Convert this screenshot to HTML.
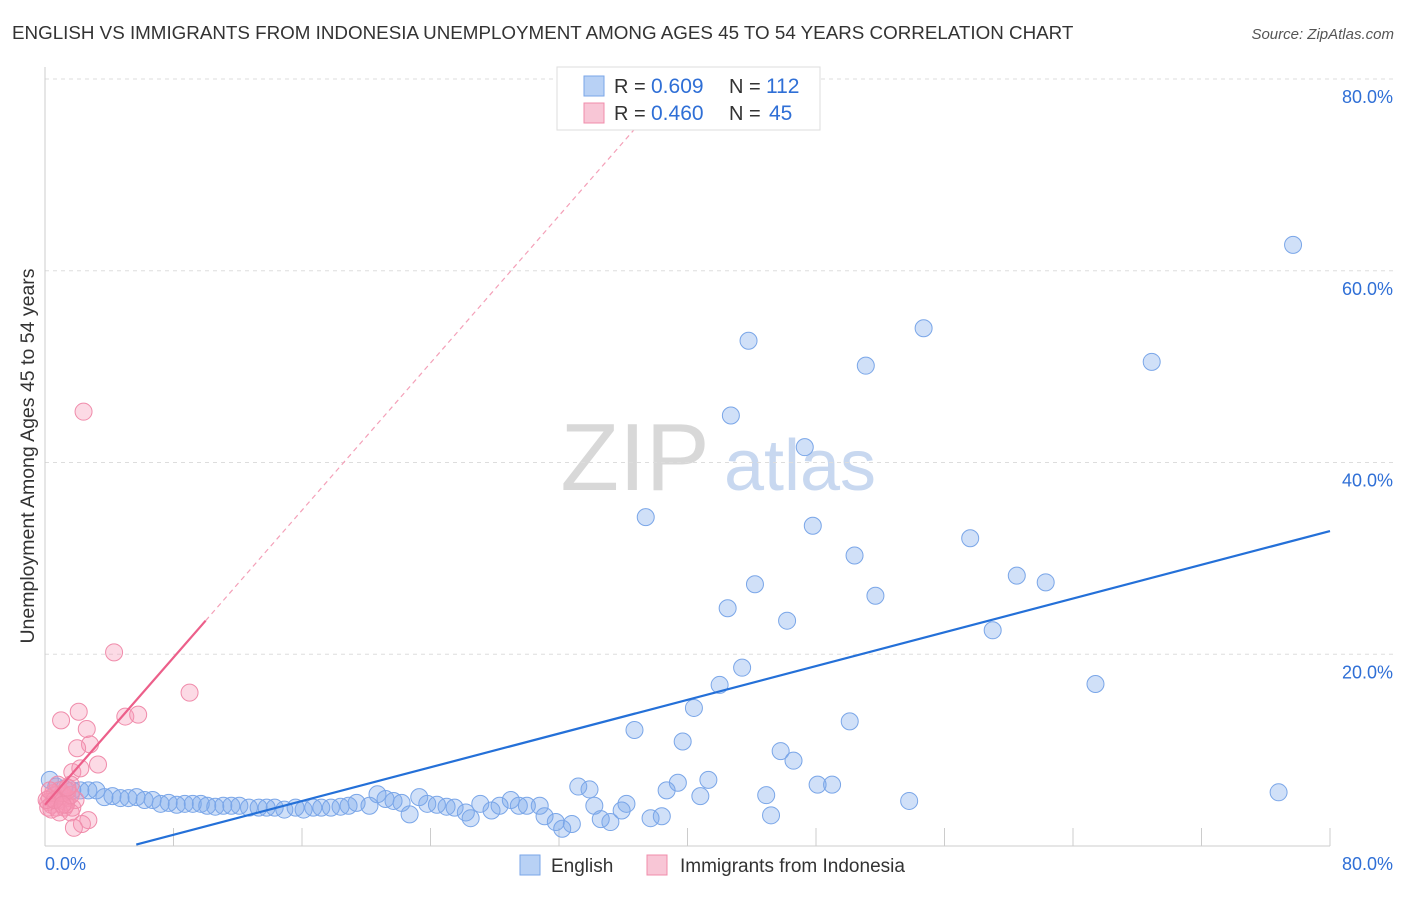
<!DOCTYPE html>
<html><head><meta charset="utf-8">
<style>
body{margin:0;background:#fff;font-family:"Liberation Sans",sans-serif;}
svg text{font-family:"Liberation Sans",sans-serif;}
</style></head>
<body>
<svg id="chart" width="1406" height="892" viewBox="0 0 1406 892">
<text x="12" y="39" font-size="18.8" fill="#333">ENGLISH VS IMMIGRANTS FROM INDONESIA UNEMPLOYMENT AMONG AGES 45 TO 54 YEARS CORRELATION CHART</text>
<text x="1394" y="39" font-size="15" fill="#555" font-style="italic" text-anchor="end">Source: ZipAtlas.com</text>
<text transform="translate(34,456) rotate(-90)" font-size="19.5" fill="#333" text-anchor="middle">Unemployment Among Ages 45 to 54 years</text>
<g>
<text x="635" y="490" font-size="96" fill="#d8d8d8" font-family="Liberation Serif" text-anchor="middle">ZIP</text>
<text x="800" y="490" font-size="72" fill="#c8d8f0" text-anchor="middle">atlas</text>
</g>
<g id="grid"></g>
<g id="marks"></g>
<g>
<rect x="557" y="67" width="263" height="63" fill="#fff" stroke="#ddd"/>
<rect x="584" y="76" width="20" height="20" fill="#b8d1f5" stroke="#7aa6e8"/>
<text x="614" y="93" font-size="20" fill="#333">R =</text>
<text x="651" y="93" font-size="21" fill="#2f6fd6">0.609</text>
<text x="729" y="93" font-size="20" fill="#333">N =</text>
<text x="766" y="93" font-size="21" fill="#2f6fd6">112</text>
<rect x="584" y="103" width="20" height="20" fill="#f8c6d6" stroke="#f08cab"/>
<text x="614" y="120" font-size="20" fill="#333">R =</text>
<text x="651" y="120" font-size="21" fill="#2f6fd6">0.460</text>
<text x="729" y="120" font-size="20" fill="#333">N =</text>
<text x="769" y="120" font-size="21" fill="#2f6fd6">45</text>
</g>
<g>
<rect x="520" y="855" width="20" height="20" fill="#b8d1f5" stroke="#7aa6e8"/>
<text x="551" y="872" font-size="19" fill="#333">English</text>
<rect x="647" y="855" width="20" height="20" fill="#f8c6d6" stroke="#f08cab"/>
<text x="680" y="872" font-size="19" fill="#333">Immigrants from Indonesia</text>
</g>
</svg>
<script>
const xTicks=[0,8,16,24,32,40,48,56,64,72,80];
const yTicks=[20,40,60,80];
const englishX=[77.7,54.7,43.8,51.1,68.9,42.7,47.3,37.4,47.8,50.4,57.6,60.5,62.3,44.2,51.7,42.5,46.2,59.0,43.4,42.0,65.4,40.4,50.1,36.7,39.7,45.8,46.6,41.3,39.4,48.1,49.0,38.7,40.8,44.9,33.2,33.9,53.8,76.8,45.2,34.2,36.2,35.9,34.6,35.2,37.7,38.4,32.2,32.8,31.8,31.1,30.8,29.0,28.3,29.5,30.0,27.1,26.2,26.5,27.8,25.5,25.0,24.4,23.8,23.3,22.7,22.2,21.7,21.2,20.7,20.2,19.4,18.9,18.4,17.8,17.2,16.7,16.1,15.6,14.9,14.3,13.8,13.3,12.7,12.1,11.6,11.1,10.6,10.1,9.7,9.2,8.7,8.2,7.7,7.2,6.7,6.2,5.7,5.2,4.7,4.2,3.7,3.2,2.7,2.2,1.7,1.2,0.7,0.3];
const englishY=[62.7,54.0,52.7,50.1,50.5,44.9,41.6,34.3,33.4,30.3,32.1,28.2,27.5,27.3,26.1,24.8,23.5,22.5,18.6,16.8,16.9,14.4,13.0,12.1,10.9,9.9,8.9,6.9,6.6,6.4,6.4,5.8,5.2,5.3,6.2,5.9,4.7,5.6,3.2,4.2,4.4,3.7,2.8,2.5,2.9,3.1,1.8,2.3,2.5,3.1,4.2,4.8,4.2,4.2,4.2,4.4,3.5,2.9,3.7,4.0,4.1,4.3,4.4,5.1,3.3,4.5,4.7,4.9,5.4,4.2,4.5,4.2,4.1,4.0,4.0,4.0,3.8,4.0,3.8,4.0,4.0,4.0,4.0,4.2,4.2,4.2,4.1,4.2,4.4,4.4,4.4,4.3,4.5,4.4,4.8,4.8,5.1,5.0,5.0,5.2,5.1,5.8,5.8,5.8,5.8,6.0,6.2,6.9];
const indoX=[2.4,4.3,9.0,5.0,5.8,2.1,1.0,2.6,2.8,2.0,3.3,1.7,2.2,1.6,0.9,0.6,0.3,0.2,0.4,0.8,1.1,1.3,1.4,1.7,1.9,1.2,0.7,0.2,0.4,0.9,1.6,2.7,2.3,1.8,1.3,1.1,0.5,0.1,0.8,1.4,1.6,0.6,1.1,0.3,1.4];
const indoY=[45.3,20.2,16.0,13.5,13.7,14.0,13.1,12.2,10.6,10.2,8.5,7.7,8.1,6.4,5.8,5.3,5.0,4.6,4.3,4.8,5.2,4.6,5.0,4.0,4.8,4.0,4.0,4.0,3.8,3.5,3.5,2.7,2.3,1.9,4.3,5.5,5.5,4.8,6.4,5.8,5.3,4.8,4.3,5.8,6.1];
const englishFit=[-2.35,0.44];
const indoFit=[4.3,1.92];

const NS="http://www.w3.org/2000/svg";
const X0=45,X1=1330,Y0=846,YTOP=79;
const sx=v=>X0+(v/80)*(X1-X0);
const sy=v=>Y0-(v/80)*(Y0-YTOP);
function mk(tag,attrs,parent){const e=document.createElementNS(NS,tag);for(const k in attrs)e.setAttribute(k,attrs[k]);parent.appendChild(e);return e;}
const grid=document.getElementById('grid'),marks=document.getElementById('marks');
yTicks.forEach(t=>{
  const l=mk('line',{x1:X0,x2:1394,y1:sy(t),y2:sy(t),stroke:'#ddd','stroke-dasharray':'4,4'},grid);
  
  
  const tx=mk('text',{x:1393,y:sy(t)+24,'font-size':18,fill:'#2f6fd6','text-anchor':'end'},grid);
  tx.textContent=t.toFixed(1)+'%';
  
  
});
const ax=mk('line',{x1:X0,x2:X0,y1:67,y2:Y0,stroke:'#ccc'},grid);


const bx=mk('line',{x1:X0,x2:X1,y1:Y0,y2:Y0,stroke:'#ccc'},grid);


xTicks.forEach(t=>{
  const l=mk('line',{x1:sx(t),x2:sx(t),y1:Y0-18,y2:Y0,stroke:'#ccc'},grid);
  
  
});
[[0,'start',45],[80,'end',1393]].forEach(([t,a,x])=>{
  const tx=mk('text',{x:x,y:870,'font-size':18,fill:'#2f6fd6','text-anchor':a},grid);
  tx.textContent=t.toFixed(1)+'%';
  
  
});
englishX.forEach((v,i)=>{
  const c=mk('circle',{cx:sx(v),cy:sy(englishY[i]),r:8.5,fill:'rgba(120,165,235,0.35)',stroke:'#7aa6e8','stroke-width':1},marks);
  
  
});
indoX.forEach((v,i)=>{
  const c=mk('circle',{cx:sx(v),cy:sy(indoY[i]),r:8.5,fill:'rgba(245,150,180,0.35)',stroke:'#f08cab','stroke-width':1},marks);
  
  
});
const ex0=(0.15-englishFit[0])/englishFit[1];
const el=mk('line',{x1:sx(ex0),y1:sy(0.15),x2:sx(80),y2:sy(englishFit[0]+englishFit[1]*80),stroke:'#2470d8','stroke-width':2.2},marks);


const xe=(75-indoFit[0])/indoFit[1];
const dl=mk('line',{x1:sx(10),y1:sy(indoFit[0]+indoFit[1]*10),x2:sx(xe),y2:sy(75),stroke:'#f4a0b8','stroke-width':1.2,'stroke-dasharray':'5,4'},marks);


const il=mk('line',{x1:sx(0),y1:sy(indoFit[0]),x2:sx(10),y2:sy(indoFit[0]+indoFit[1]*10),stroke:'#ec5f8a','stroke-width':2.2},marks);


</script>
</body></html>
